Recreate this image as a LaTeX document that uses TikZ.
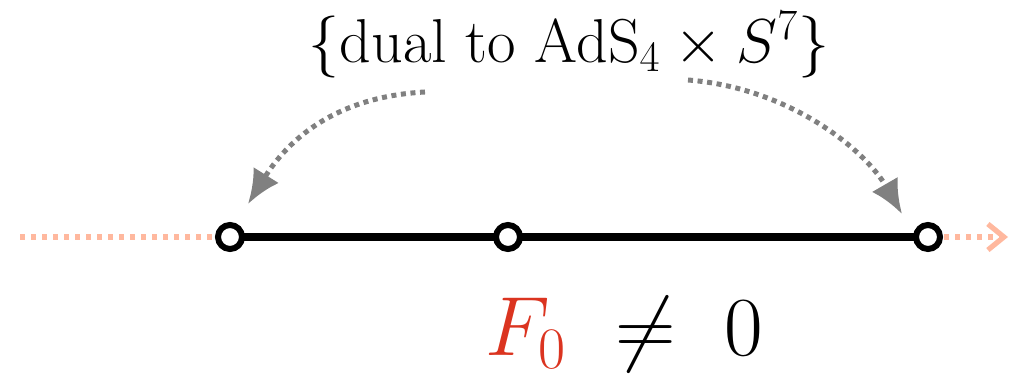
\RequirePackage{fix-cm}
\documentclass[tikz,border=0pt]{standalone}
\usetikzlibrary{arrows.meta}
\definecolor{salmon}{RGB}{255,184,158}
\definecolor{fred}{RGB}{219,52,32}
\definecolor{agray}{RGB}{128,128,128}
\begin{document}
\begin{tikzpicture}[x=0.5pt,y=0.5pt,
  pt/.style={circle,draw=black,fill=white,line width=3pt,minimum size=12pt,inner sep=0pt},
  seg/.style={line width=4pt,black},
  ext/.style={salmon,line width=2.6pt,dash pattern=on 2.6pt off 2.9pt},
  dualarrow/.style={agray,line width=2.5pt,dash pattern=on 2.5pt off 2.3pt,-{Latex[length=17pt,width=15pt]}}]
\useasboundingbox (0,0) rectangle (1010,-378);
\coordinate (L0) at (20,-237);
\coordinate (R0) at (1008,-237);
\draw[seg] (230,-237) -- (928,-237);
\draw[ext] (L0) -- (216,-237);
\draw[ext,-{Straight Barb[length=8pt,width=13pt]}] (944,-237) -- (R0);
\node[pt] (a) at (230,-237) {};
\node[pt] (b) at (508,-237) {};
\node[pt] (c) at (928,-237) {};
\node[font=\fontsize{31}{37}\selectfont] (t) at (569,-45) {\{dual to AdS$_4\times S^7$\}};
\node[font=\fontsize{42}{50}\selectfont] (f) at (624,-335) {${\color{fred}F_0}\ \neq\ 0$};
\coordinate (s1) at (425,-92);
\coordinate (s2) at (688,-80);
\draw[dualarrow] (s1) .. controls (330,-97) and (285,-145) .. (248,-204);
\draw[dualarrow] (s2) .. controls (790,-88) and (865,-150) .. (902,-214);
\end{tikzpicture}
\end{document}
